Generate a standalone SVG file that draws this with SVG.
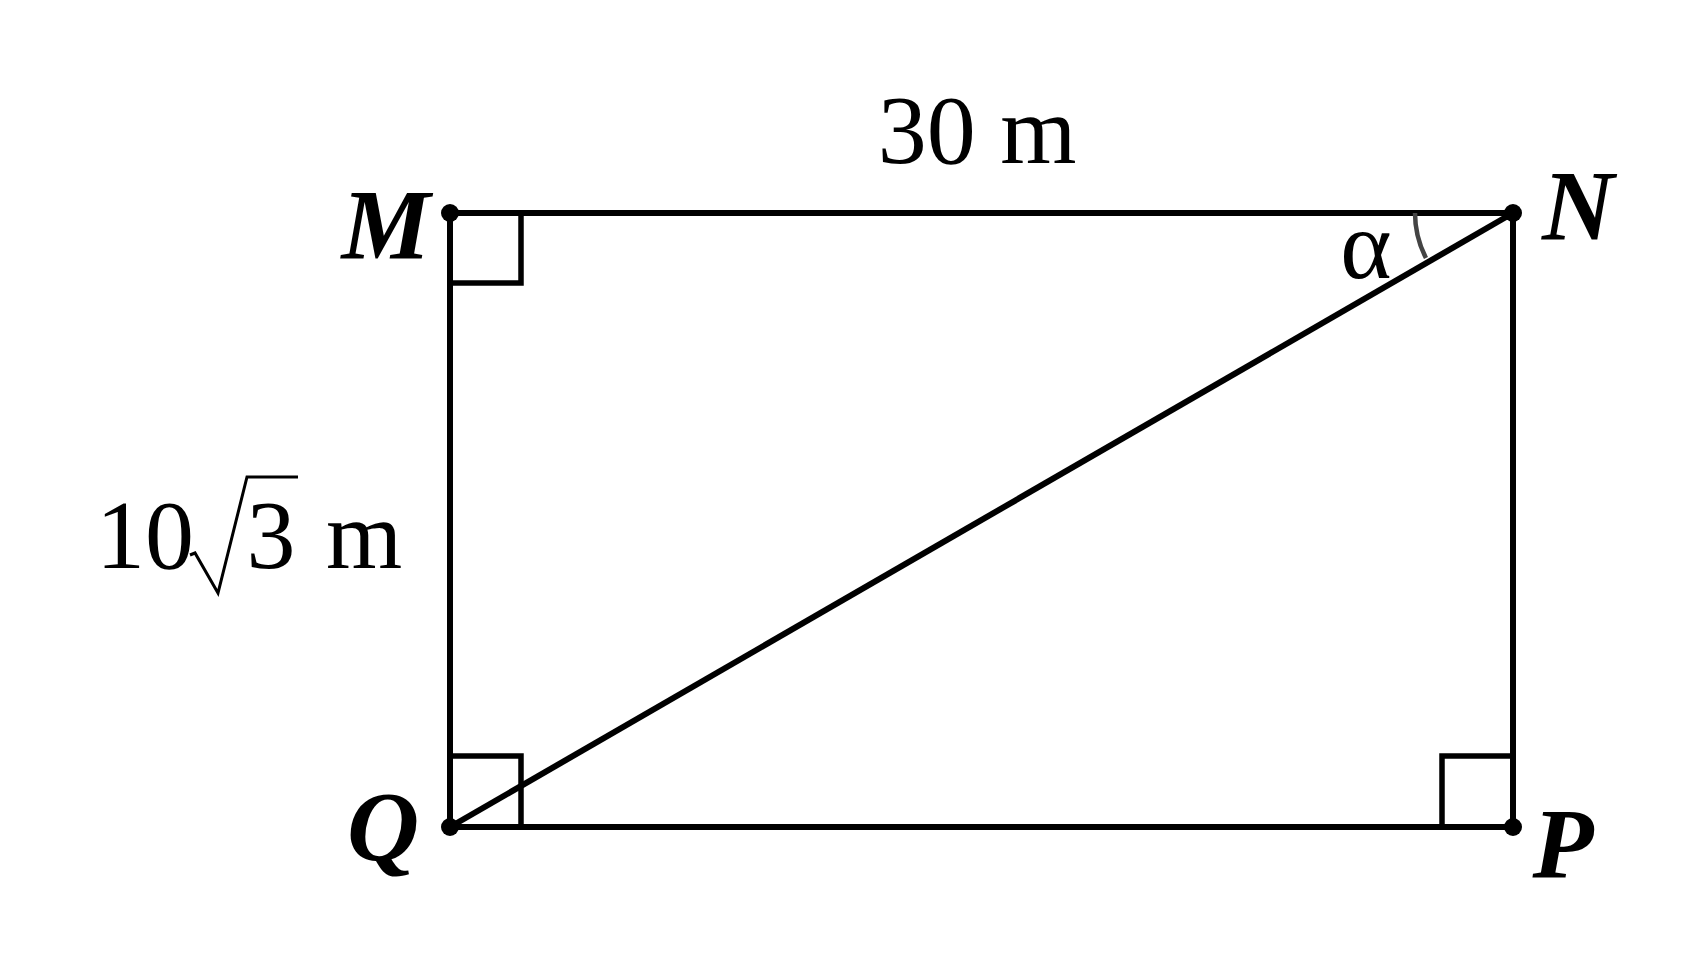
<svg xmlns="http://www.w3.org/2000/svg" width="1689" height="970" viewBox="0 0 1689 970">
<style>
.ln{stroke:#000;stroke-width:6;fill:none;stroke-linecap:butt}
.sq{stroke:#000;stroke-width:5.5;fill:none}
.dot{fill:#000}
.lbl{font-family:"Liberation Serif","Times New Roman",serif;font-weight:bold;font-style:italic;font-size:100px;text-anchor:middle;fill:#000}
.num{font-family:"Liberation Serif","Times New Roman",serif;font-size:98px;text-anchor:middle;fill:#000}
</style>
<rect width="1689" height="970" fill="#fff"/>
<g id="connectors">
<line class="ln" x1="450" y1="213" x2="1513" y2="213"/>
<line class="ln" x1="450" y1="827" x2="1513" y2="827"/>
<line class="ln" x1="450" y1="213" x2="450" y2="827"/>
<line class="ln" x1="1513" y1="213" x2="1513" y2="827"/>
<line class="ln" x1="450" y1="827" x2="1513" y2="213"/>
</g>
<g id="right-angles">
<polyline class="sq" points="450,283 521,283 521,213"/>
<polyline class="sq" points="450,756 521,756 521,827"/>
<polyline class="sq" points="1513,756 1442,756 1442,827"/>
<path d="M1415,213 A98,98 0 0 0 1426,258" stroke="#444" stroke-width="4.5" fill="none"/>
</g>
<g id="M"><circle class="dot" cx="450" cy="213" r="9"/><text class="lbl" x="386" y="258">M</text></g>
<g id="N"><circle class="dot" cx="1513" cy="213" r="9"/><text class="lbl" x="1578" y="239">N</text></g>
<g id="Q"><circle class="dot" cx="450" cy="827" r="9"/><text class="lbl" x="383" y="860">Q</text></g>
<g id="P"><circle class="dot" cx="1513" cy="827" r="9"/><text class="lbl" x="1563" y="877">P</text></g>
<g id="labels">
<text class="num" x="1366" y="278">α</text>
<text class="num" x="977" y="163">30 m</text>
<text class="num" x="145" y="568">10</text>
<polyline points="190,555 195,553 218,593 247,477 298,477" stroke="#000" stroke-width="3" fill="none" stroke-linejoin="miter"/>
<text class="num" x="271" y="568">3</text>
<text class="num" x="364" y="568">m</text>
</g>
</svg>
